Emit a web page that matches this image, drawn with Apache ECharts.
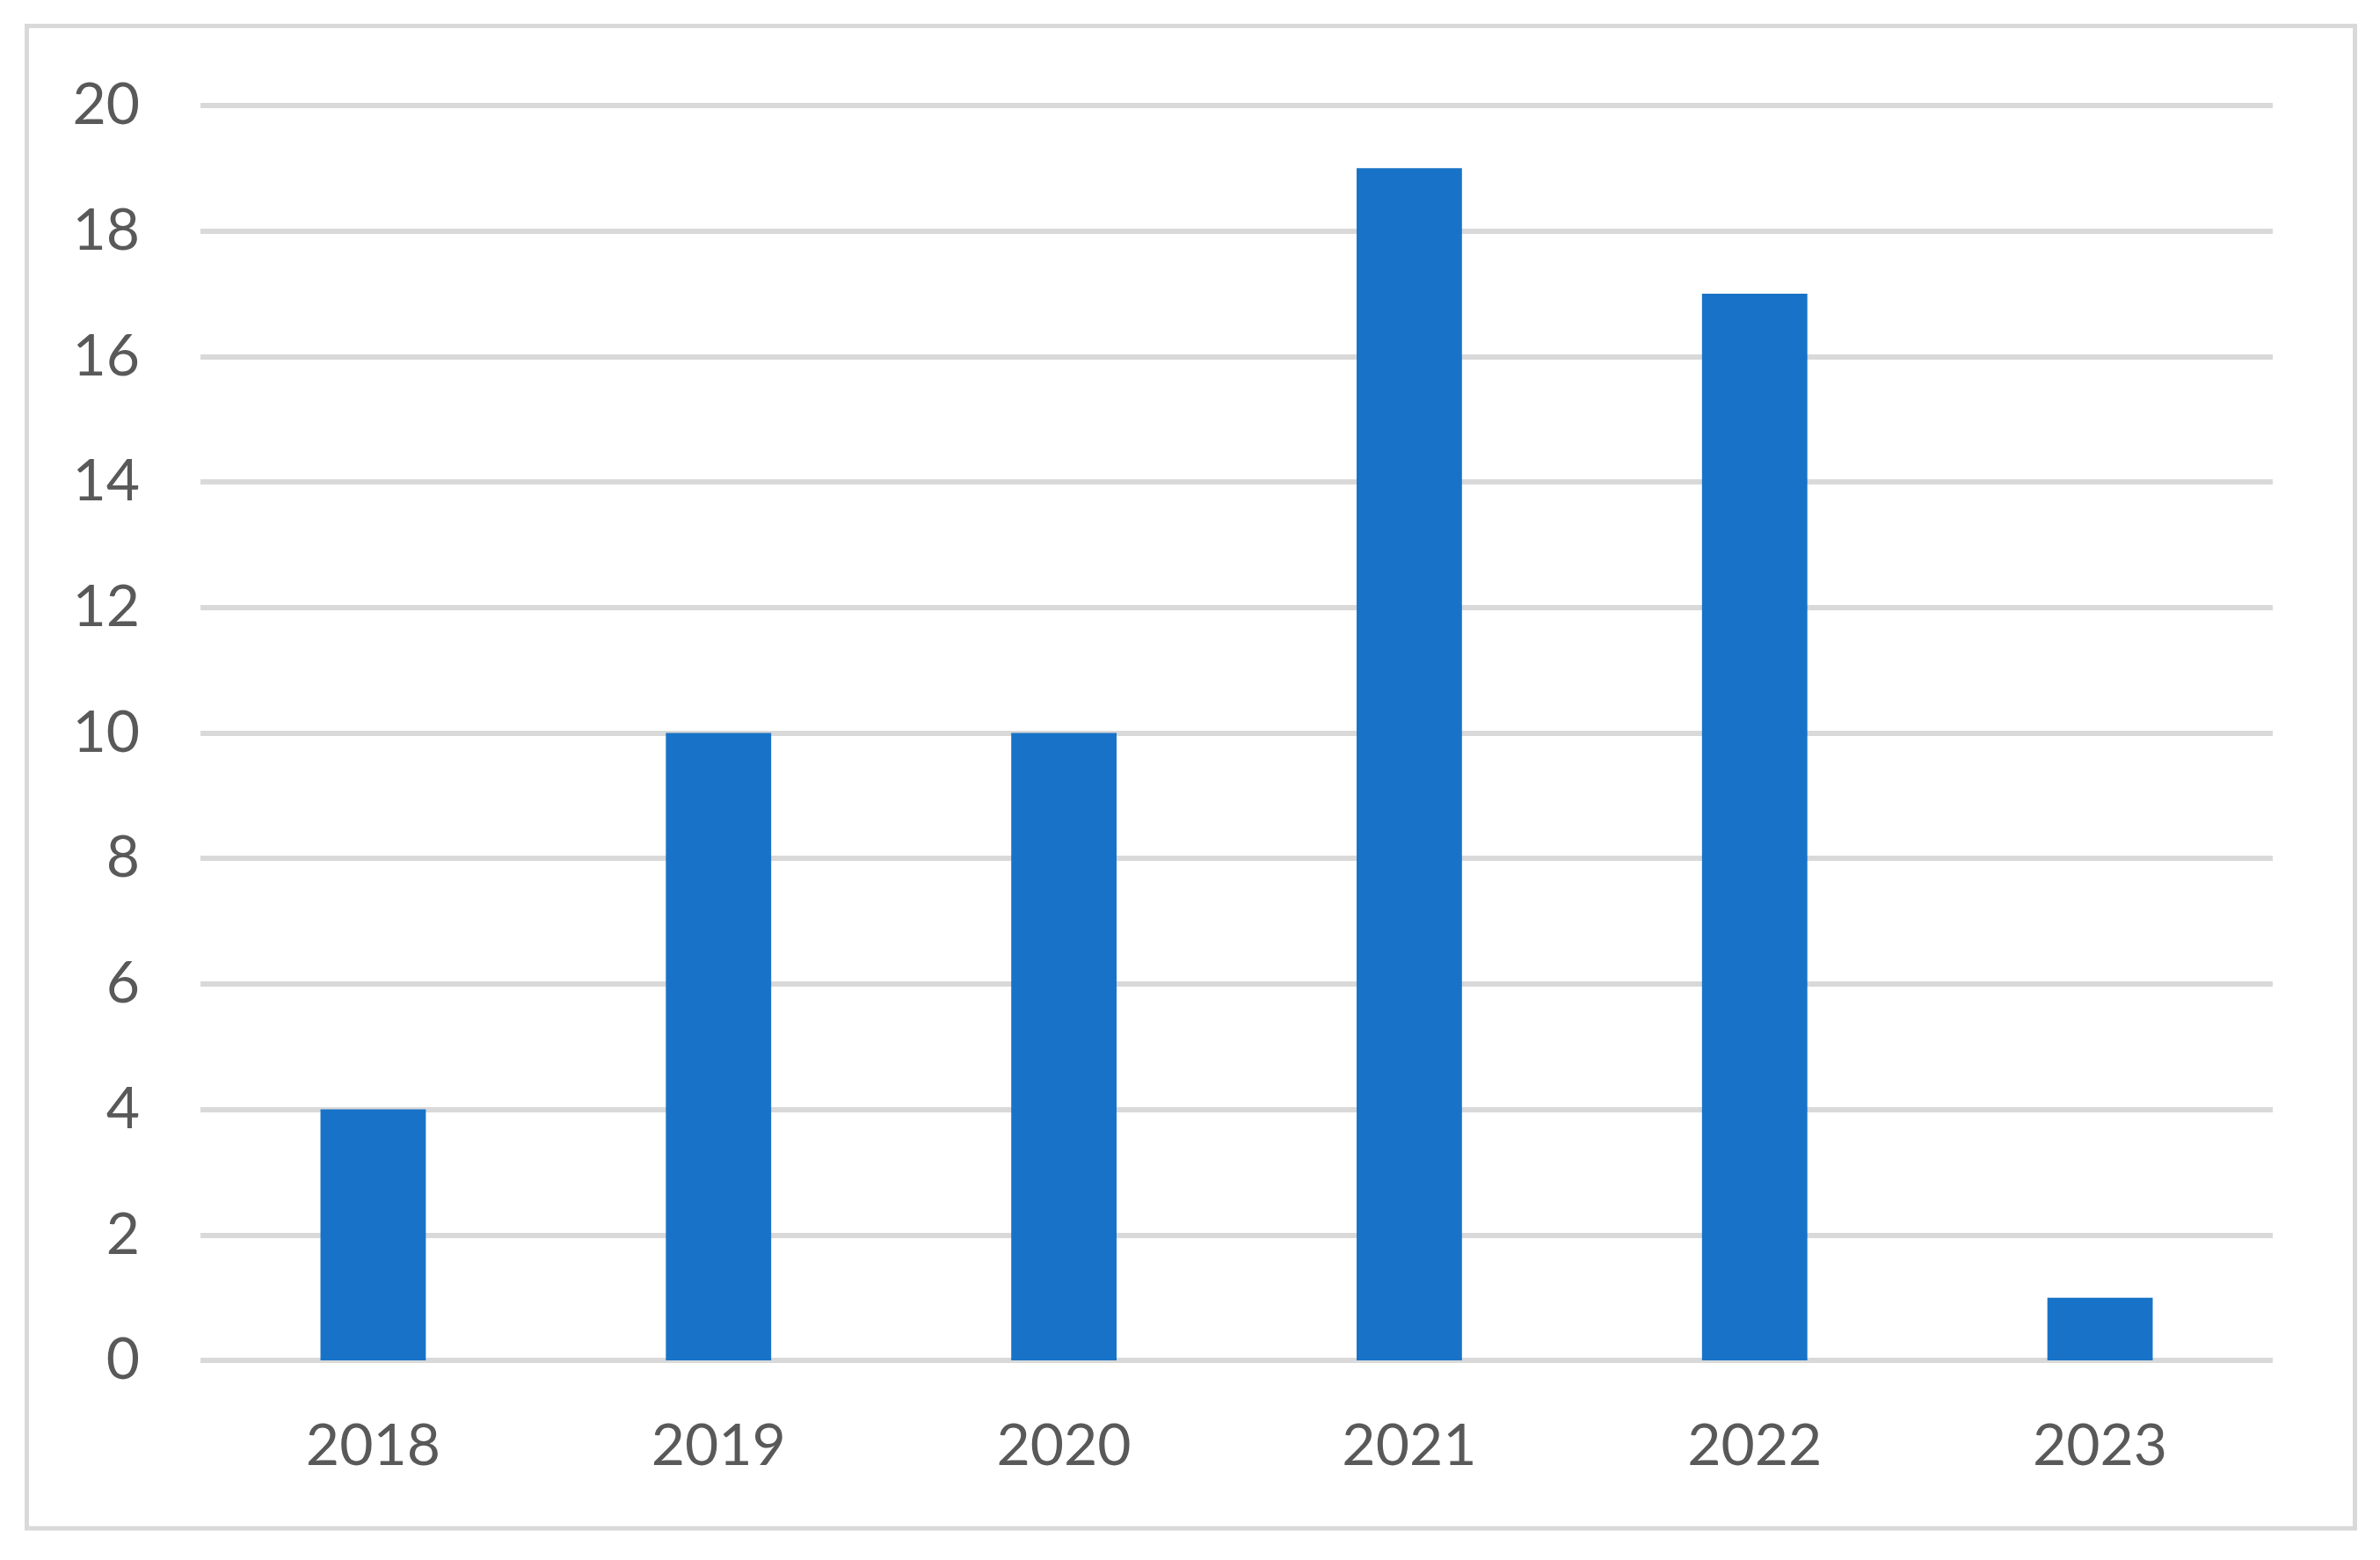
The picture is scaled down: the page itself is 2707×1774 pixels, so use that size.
<!DOCTYPE html>
<html>
<head>
<meta charset="utf-8">
<script src="https://cdn.jsdelivr.net/npm/echarts@6/dist/echarts.min.js"></script>
<style>
html,body{margin:0;padding:0;background:#fff;}
#chart{width:2707px;height:1774px;}
</style>
</head>
<body>
<div id="chart"></div>
<script>
const categories = ['2018', '2019', '2020', '2021', '2022', '2023'];
const values = [4, 10, 10, 19, 17, 1];
const yMin = 0, yMax = 20, yInterval = 2;

const chart = echarts.init(document.getElementById('chart'), null, {renderer: 'canvas'});
const labelFont = 'Lato, "Noto Sans", sans-serif';
chart.setOption({
  animation: false,
  backgroundColor: '#ffffff',
  graphic: [{
    type: 'rect',
    shape: {x: 30.5, y: 29.5, width: 2648, height: 1708.5},
    style: {fill: 'none', stroke: '#d9d9d9', lineWidth: 5},
    silent: true
  }],
  grid: {left: 228, right: 122, top: 120, bottom: 227, containLabel: false},
  xAxis: {
    type: 'category',
    data: categories,
    axisLine: {show: false},
    axisTick: {show: false},
    axisLabel: {color: '#595959', fontSize: 66, fontFamily: labelFont, margin: 65}
  },
  yAxis: {
    type: 'value',
    min: yMin, max: yMax, interval: yInterval,
    axisLine: {show: false},
    axisTick: {show: false},
    splitLine: {show: true, lineStyle: {color: '#d9d9d9', width: 6}},
    axisLabel: {color: '#595959', fontSize: 66, fontFamily: labelFont, margin: 69}
  },
  series: [{
    type: 'bar',
    data: values,
    barWidth: '30.5%',
    itemStyle: {color: '#1873c8'}
  }]
});
</script>
</body>
</html>
